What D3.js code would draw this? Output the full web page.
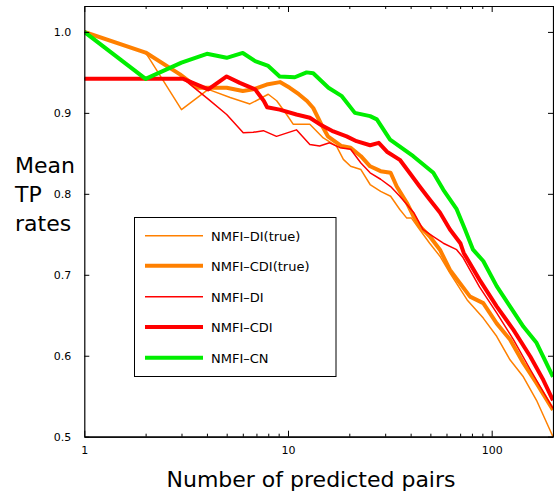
<!DOCTYPE html>
<html><head><meta charset="utf-8">
<script src="https://cdn.jsdelivr.net/npm/d3@7"></script>
<style>
html,body{margin:0;padding:0;background:#fff;}
svg{display:block;font-family:"DejaVu Sans",sans-serif;}
</style></head>
<body><svg id="chart" width="554" height="491"></svg>
<script>
// ---- data ----
const seriesNames = ["NMFI\u2013DI(true)", "NMFI\u2013CDI(true)", "NMFI\u2013DI", "NMFI\u2013CDI", "NMFI\u2013CN"];

const diTrueN = [1, 2, 3, 4.06, 5.2, 6.5, 8.0, 8.8, 9.85, 10.6, 12.8, 14.9, 17.3, 18.7, 20.3, 22.8, 25.3, 28.5, 31.9, 35.4, 38.3, 40.4, 44.3, 49.6, 55.7, 62.4, 75.8, 90.9, 105.8, 123, 143, 166, 200];
const diTrueV = [1.0, 0.9745, 0.904, 0.929, 0.919, 0.911, 0.923, 0.915, 0.898, 0.886, 0.886, 0.869, 0.859, 0.8425, 0.834, 0.830, 0.8115, 0.803, 0.797, 0.7806, 0.770, 0.770, 0.756, 0.739, 0.723, 0.702, 0.669, 0.6465, 0.624, 0.595, 0.574, 0.545, 0.50];

const cdiTrueN = [1, 2, 2.95, 3.6, 5.0, 6.0, 6.75, 7.86, 9.13, 10.2, 11.3, 12.4, 13.3, 14.7, 15.7, 18.3, 20.3, 22.8, 25.3, 28.5, 31.9, 34.2, 38.3, 41.4, 44.3, 49.6, 55.7, 62.4, 78.3, 90.9, 105.8, 123, 143, 166, 200];
const cdiTrueV = [1.0, 0.9745, 0.9476, 0.931, 0.931, 0.927, 0.929, 0.935, 0.938, 0.931, 0.923, 0.9146, 0.906, 0.884, 0.871, 0.859, 0.857, 0.8465, 0.834, 0.828, 0.826, 0.809, 0.789, 0.772, 0.760, 0.7475, 0.731, 0.706, 0.673, 0.665, 0.640, 0.620, 0.591, 0.566, 0.533];

const diN = [1, 3.06, 4.06, 5.0, 6.03, 6.75, 7.57, 8.78, 11.0, 12.8, 14.3, 16.0, 18.0, 20.3, 22.8, 25.3, 28.5, 31.9, 35.4, 41.4, 46.0, 51.5, 57.9, 67.3, 72, 87.1, 105.8, 127.9, 154.7, 200];
const diV = [0.942, 0.942, 0.917, 0.898, 0.8755, 0.876, 0.878, 0.871, 0.879, 0.861, 0.859, 0.863, 0.857, 0.855, 0.838, 0.826, 0.818, 0.809, 0.797, 0.777, 0.756, 0.7475, 0.739, 0.731, 0.722, 0.685, 0.653, 0.620, 0.583, 0.535];

const cdiN = [1, 3.06, 4.06, 5.0, 5.8, 6.9, 7.6, 7.9, 9.1, 11, 12.8, 14.3, 16.7, 19.4, 21.7, 25.3, 27.9, 30.6, 35.4, 39.5, 44.3, 49.6, 55.7, 62.4, 70.2, 72.9, 87.1, 105.8, 127.9, 154.7, 179.3, 200];
const cdiV = [0.942, 0.942, 0.929, 0.945, 0.937, 0.929, 0.915, 0.907, 0.904, 0.898, 0.894, 0.886, 0.877, 0.871, 0.865, 0.860, 0.863, 0.852, 0.842, 0.826, 0.809, 0.793, 0.777, 0.756, 0.739, 0.727, 0.694, 0.661, 0.632, 0.599, 0.570, 0.545];

const cnN = [1, 2, 3, 4, 5, 6, 6.9, 8, 9.1, 10.8, 12.35, 13.3, 15.8, 18.3, 21.3, 25.3, 27.3, 31.7, 41.2, 51.7, 57.9, 67.3, 74, 81, 90.9, 105.8, 123, 143, 166, 200];
const cnV = [1.0, 0.942, 0.962, 0.973, 0.968, 0.974, 0.964, 0.958, 0.945, 0.944, 0.950, 0.949, 0.931, 0.921, 0.900, 0.896, 0.892, 0.867, 0.8465, 0.826, 0.805, 0.781, 0.756, 0.731, 0.717, 0.686, 0.661, 0.636, 0.616, 0.574];

const xTickValues = [1, 10, 100];
const xTickLabels = ["1", "10", "100"];
const xMinorTicks = [2,3,4,5,6,7,8,9,20,30,40,50,60,70,80,90,200];
const yTickValues = [0.5, 0.6, 0.7, 0.8, 0.9, 1.0];
const yTickLabels = ["0.5", "0.6", "0.7", "0.8", "0.9", "1.0"];

// ---- styles ----
const colors = ["#ff8000", "#ff8000", "#ff0000", "#ff0000", "#00ee00"];
const widths = [1.5, 4, 1.5, 4, 4];

const svg = d3.select("#chart");
const L = 84.3, R = 553, T = 6, B = 436.7;
const x = d3.scaleLog().domain([1, 200]).range([L, R]);
const y = d3.scaleLinear().domain([0.5, 1.032]).range([B, T]);

const series = [
  {n: diTrueN, v: diTrueV},
  {n: cdiTrueN, v: cdiTrueV},
  {n: diN, v: diV},
  {n: cdiN, v: cdiV},
  {n: cnN, v: cnV}
];

const clip = svg.append("clipPath").attr("id","clip").append("rect")
  .attr("x", L).attr("y", T).attr("width", R - L).attr("height", B - T);

const line = d3.line().x(d => x(d[0])).y(d => y(d[1]));
const gLines = svg.append("g").attr("clip-path","url(#clip)");
series.forEach((s, i) => {
  gLines.append("path")
    .datum(s.n.map((n, j) => [n, s.v[j]]))
    .attr("d", line)
    .attr("fill", "none")
    .attr("stroke", colors[i])
    .attr("stroke-width", widths[i])
    .attr("stroke-linejoin", "round");
});

// ---- axes ----
function style(g){
  g.selectAll("path.domain").attr("stroke","#000").attr("stroke-width",1.2);
  g.selectAll(".tick line").attr("stroke","#000").attr("stroke-width",1);
  g.selectAll("text").attr("font-family","DejaVu Sans, sans-serif").attr("font-size",11).attr("fill","#000");
}
const xb = svg.append("g").attr("transform",`translate(0,${B})`)
  .call(d3.axisBottom(x).tickValues(xTickValues).tickFormat((d,i)=>xTickLabels[i]).tickSize(-6).tickSizeOuter(0).tickPadding(10));
style(xb);
const xbm = svg.append("g").attr("transform",`translate(0,${B})`)
  .call(d3.axisBottom(x).tickValues(xMinorTicks).tickFormat("").tickSize(-3).tickSizeOuter(0));
style(xbm);
const xt = svg.append("g").attr("transform",`translate(0,${T})`)
  .call(d3.axisTop(x).tickValues(xTickValues).tickFormat("").tickSize(-6).tickSizeOuter(0));
style(xt);
const xtm = svg.append("g").attr("transform",`translate(0,${T})`)
  .call(d3.axisTop(x).tickValues(xMinorTicks).tickFormat("").tickSize(-3).tickSizeOuter(0));
style(xtm);
const yl = svg.append("g").attr("transform",`translate(${L},0)`)
  .call(d3.axisLeft(y).tickValues(yTickValues).tickFormat((d,i)=>yTickLabels[i]).tickSize(-5).tickSizeOuter(0).tickPadding(13));
style(yl);
const yr = svg.append("g").attr("transform",`translate(${R},0)`)
  .call(d3.axisRight(y).tickValues(yTickValues).tickFormat("").tickSize(-5).tickSizeOuter(0));
style(yr);

// ---- axis titles ----
svg.append("text").attr("x", 311).attr("y", 487).attr("text-anchor","middle")
  .attr("font-size", 22).attr("fill","#000").text("Number of predicted pairs");
const yTitle = svg.append("text").attr("font-size", 22).attr("fill","#000");
["Mean","TP","rates"].forEach((t,i)=>{
  yTitle.append("tspan").attr("x", 15).attr("y", 173 + i*29).text(t);
});

// ---- legend ----
const lg = svg.append("g");
lg.append("rect").attr("x",134.5).attr("y",217.5).attr("width",201.5).attr("height",159)
  .attr("fill","#fff").attr("stroke","#000").attr("stroke-width",1);
const legendY = [235.7, 265.7, 296.7, 327, 357.7];
seriesNames.forEach((name,i)=>{
  lg.append("line").attr("x1",145).attr("x2",203).attr("y1",legendY[i]).attr("y2",legendY[i])
    .attr("stroke",colors[i]).attr("stroke-width",widths[i]);
  lg.append("text").attr("x",211).attr("y",legendY[i]+5).attr("font-size",13).attr("fill","#000").text(name);
});
</script></body></html>
